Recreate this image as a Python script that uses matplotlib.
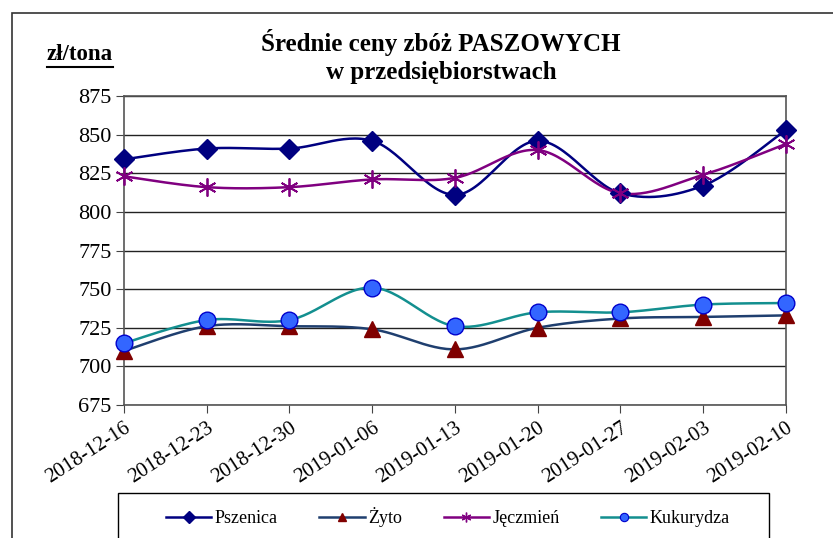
import numpy as np
import matplotlib
matplotlib.use("Agg")
import matplotlib.pyplot as plt
from matplotlib.lines import Line2D
from matplotlib.patches import Rectangle

dates = ["2018-12-16", "2018-12-23", "2018-12-30", "2019-01-06", "2019-01-13",
         "2019-01-20", "2019-01-27", "2019-02-03", "2019-02-10"]
pszenica = [834, 841, 841, 846, 811, 846, 812, 817, 853]
zyto = [710, 726, 726, 724, 711, 725, 731, 732, 733]
jeczmien = [823, 816, 816, 821, 822, 840, 812, 824, 844]
kukurydza = [715, 730, 730, 751, 726, 735, 735, 740, 741]
yticks = [675, 700, 725, 750, 775, 800, 825, 850, 875]

plt.rcParams['font.family'] = ['Liberation Serif', 'DejaVu Serif']

def smooth(y, n=30):
    y = np.asarray(y, float)
    x = np.arange(len(y), dtype=float)
    p = np.concatenate([[y[0]], y, [y[-1]]])
    px = np.concatenate([[x[0]], x, [x[-1]]])
    xs, ys = [], []
    for i in range(1, len(p) - 2):
        t = np.linspace(0, 1, n)
        b0, b1, b2, b3 = p[i], p[i] + (p[i+1] - p[i-1]) / 6, p[i+1] - (p[i+2] - p[i]) / 6, p[i+1]
        a0, a1, a2, a3 = px[i], px[i] + (px[i+1] - px[i-1]) / 6, px[i+1] - (px[i+2] - px[i]) / 6, px[i+1]
        ys.append((1-t)**3*b0 + 3*(1-t)**2*t*b1 + 3*(1-t)*t**2*b2 + t**3*b3)
        xs.append((1-t)**3*a0 + 3*(1-t)**2*t*a1 + 3*(1-t)*t**2*a2 + t**3*a3)
    return np.concatenate(xs), np.concatenate(ys)

fig = plt.figure(figsize=(8.33, 5.38), dpi=100)
fig.patches.append(Rectangle((12/833, -0.1), 1.0, 1 - 13.5/538 + 0.1, transform=fig.transFigure,
                             fill=False, edgecolor='#333333', lw=1.2, zorder=0))
fig.patches.append(Rectangle((118/833, -0.1), (769 - 118)/833, 1 - 493/538 + 0.1,
                             transform=fig.transFigure, fill=False, edgecolor='black',
                             lw=1.0, zorder=0))
ax = fig.add_axes([124/833, 1 - 405/538, (786 - 124)/833, (405 - 96)/538])

series = [
    ("Pszenica", pszenica, '#000080', 'D', '#000080', 10),
    ("Żyto", zyto, '#1F3F6F', '^', '#800000', 11),
    ("Jęczmień", jeczmien, '#800080', 'x', '#800080', 13),
    ("Kukurydza", kukurydza, '#138F8F', 'o', '#3366FF', 12),
]
x = np.arange(len(dates))
handles = []
for name, vals, lc, mk, mc, ms in series:
    sx, sy = smooth(vals)
    ax.plot(sx, sy, color=lc, lw=1.8, zorder=3, clip_on=False)
    if mk == 'x':
        ax.plot(x, vals, ls='none', marker=(6, 2, 0), ms=ms, mec=mc, mew=1.3, zorder=4, clip_on=False)
        h = Line2D([], [], color=lc, lw=1.8, marker=(6, 2, 0), ms=7, mec=mc, mew=1)
    elif mk == 'o':
        ax.plot(x, vals, ls='none', marker='o', ms=ms, mfc=mc, mec='#0000CC', mew=1, zorder=4, clip_on=False)
        h = Line2D([], [], color=lc, lw=1.8, marker='o', ms=6, mfc=mc, mec='#0000CC', mew=0.8)
    else:
        ax.plot(x, vals, ls='none', marker=mk, ms=ms, mfc=mc, mec=mc, zorder=4, clip_on=False)
        h = Line2D([], [], color=lc, lw=1.8, marker=mk, ms=6, mfc=mc, mec=mc)
    handles.append((h, name))

ax.set_xlim(0, len(dates) - 1)
ax.set_ylim(675, 875)
ax.set_yticks(yticks)
ax.set_yticklabels([str(v) for v in yticks], fontsize=16)
ax.set_xticks(x)
ax.set_xticklabels(dates, rotation=33, ha='right', rotation_mode='anchor', fontsize=15)
ax.tick_params(axis='x', length=6, direction='out', color='#444444', pad=4)
ax.tick_params(axis='y', length=6, direction='out', color='#444444', pad=3)
ax.grid(axis='y', color='#222222', lw=1.0)
ax.set_axisbelow(True)
for s in ax.spines.values():
    s.set_color('#555555')
    s.set_linewidth(1.2)

fig.text(441/833, 1 - 42/538, "Średnie ceny zbóż PASZOWYCH", ha='center', va='center',
         fontsize=18, fontweight='bold')
fig.text(441/833, 1 - 72/538, "w przedsiębiorstwach", ha='center', va='center',
         fontsize=18, fontweight='bold')
fig.text(80/833, 1 - 55/538, "zł/tona", ha='center', va='center', fontsize=16.5,
         fontweight='bold')
fig.add_artist(Line2D([47/833, 113/833], [1 - 67/538, 1 - 67/538], color='black', lw=1.5,
                      transform=fig.transFigure))

leg = fig.legend([h for h, _ in handles], [n for _, n in handles], loc='center',
                 bbox_to_anchor=(448/833, 1 - 517/538), ncol=4, frameon=False, fontsize=13,
                 handlelength=2.5, handletextpad=0.2, borderaxespad=0, borderpad=0,
                 columnspacing=2.3)

fig.savefig("out.png", dpi=100)
